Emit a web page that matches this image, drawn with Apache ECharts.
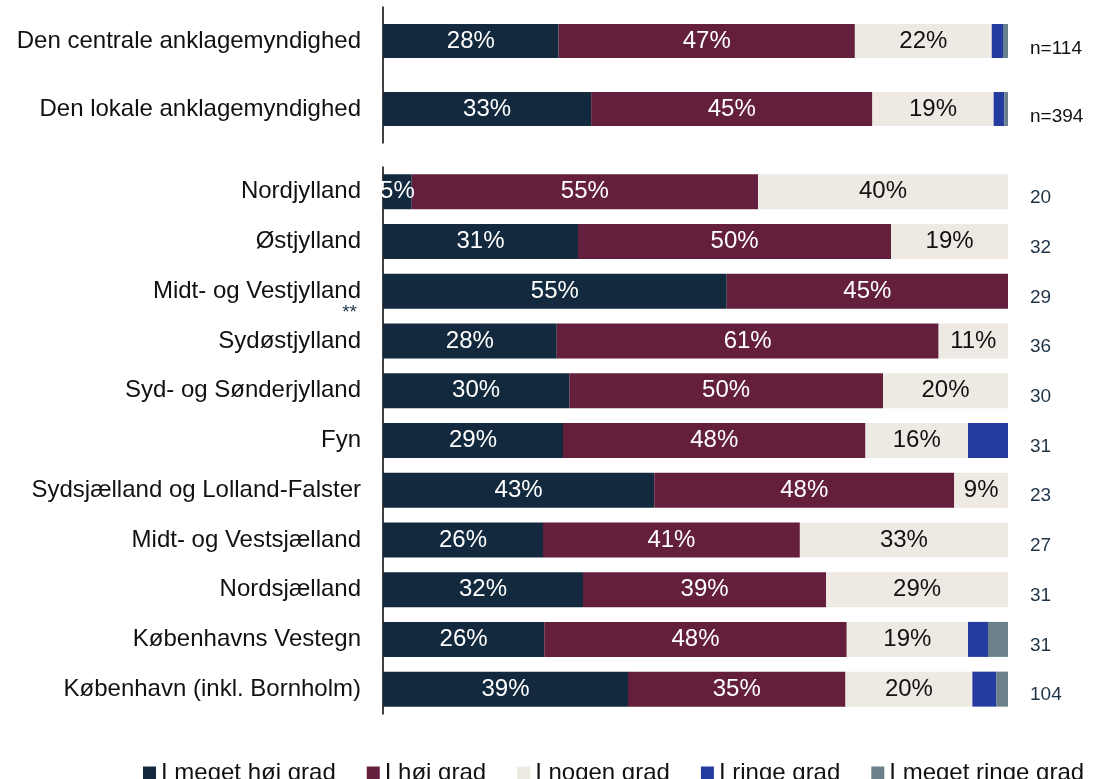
<!DOCTYPE html>
<html>
<head>
<meta charset="utf-8">
<script src="https://cdn.jsdelivr.net/npm/echarts@6/dist/echarts.min.js"></script>
<style>html,body{margin:0;padding:0;background:#fff}#c{width:1105px;height:779px}</style>
</head>
<body>
<div id="c"></div>
<script>
// ---- data ----
const seriesNames = ['I meget høj grad', 'I høj grad', 'I nogen grad', 'I ringe grad', 'I meget ringe grad'];

const topCategories = ['Den centrale anklagemyndighed', 'Den lokale anklagemyndighed'];
const topN = ['n=114', 'n=394'];
const topMegetHoej = [28.1, 33.3];
const topHoej = [47.4, 45.0];
const topNogen = [21.9, 19.4];
const topRinge = [1.8, 1.7];
const topMegetRinge = [0.8, 0.6];

const regCategories = ['Nordjylland', 'Østjylland', 'Midt- og Vestjylland', 'Sydøstjylland', 'Syd- og Sønderjylland', 'Fyn',
  'Sydsjælland og Lolland-Falster', 'Midt- og Vestsjælland', 'Nordsjælland', 'Københavns Vestegn', 'København (inkl. Bornholm)'];
const regN = ['20', '32', '29', '36', '30', '31', '23', '27', '31', '31', '104'];
const regMegetHoej = [4.6, 31.2, 55.0, 27.8, 29.8, 28.8, 43.4, 25.6, 32.0, 25.8, 39.2];
const regHoej = [55.4, 50.1, 45.0, 61.1, 50.2, 48.4, 48.0, 41.1, 38.9, 48.4, 34.8];
const regNogen = [40.0, 18.7, 0, 11.1, 20.0, 16.4, 8.6, 33.3, 29.1, 19.4, 20.3];
const regRinge = [0, 0, 0, 0, 0, 6.4, 0, 0, 0, 3.2, 3.8];
const regMegetRinge = [0, 0, 0, 0, 0, 0, 0, 0, 0, 3.2, 1.9];

const starredCategory = 'Midt- og Vestjylland';

// ---- styling ----
const colors = ['#132a3e', '#641f3d', '#eeeae3', '#243c9f', '#6a808a'];
const labelColors = ['#ffffff', '#ffffff', '#111111', '#ffffff', '#ffffff'];
const showLabel = [true, true, true, false, false];
const FONT = '"Liberation Sans", Arial, sans-serif';

const topData = [topMegetHoej, topHoej, topNogen, topRinge, topMegetRinge];
const regData = [regMegetHoej, regHoej, regNogen, regRinge, regMegetRinge];

function makeSeries(dataSets, idx, barWidth) {
  return dataSets.map((d, i) => ({
    name: seriesNames[i],
    type: 'bar',
    stack: 'g' + idx,
    xAxisIndex: idx,
    yAxisIndex: idx * 2,
    barWidth: barWidth,
    data: d,
    itemStyle: { color: colors[i] },
    label: {
      show: showLabel[i],
      position: 'inside',
      color: labelColors[i],
      fontSize: 24,
      fontFamily: FONT,
      formatter: p => p.value > 0 ? Math.round(p.value) + '%' : ''
    },
    emphasis: { disabled: true },
    animation: false
  }));
}

function catAxis(gridIndex, data) {
  return {
    type: 'category', gridIndex: gridIndex, data: data, inverse: true,
    axisLine: { show: true, lineStyle: { color: '#000', width: 1.5 } },
    axisTick: { show: false },
    axisLabel: {
      margin: 22, fontSize: 24, fontFamily: FONT, color: '#111',
      formatter: v => v === starredCategory
        ? '{s| }\n{a|' + v + '}\n{st|**}'
        : '{a|' + v + '}',
      rich: {
        a: { fontSize: 24, fontFamily: FONT, color: '#111', lineHeight: 24, align: 'right' },
        s: { fontSize: 18, lineHeight: 18, align: 'right' },
        st: { fontSize: 19, fontFamily: FONT, color: '#1f3347', lineHeight: 18, align: 'right', padding: [0, 4, 0, 0] }
      }
    }
  };
}

function nAxis(gridIndex, data, shift, color) {
  return {
    type: 'category', gridIndex: gridIndex, data: data, inverse: true, position: 'right',
    axisLine: { show: false }, axisTick: { show: false },
    axisLabel: {
      margin: 22, color: color,
      formatter: v => '{p|}\n{n|' + v + '}',
      rich: {
        p: { fontSize: 10, lineHeight: shift * 2 },
        n: { fontSize: 19, fontFamily: FONT, color: color, lineHeight: 22 }
      }
    }
  };
}

const option = {
  animation: false,
  grid: [
    { left: 383, right: 97, top: 7, height: 136 },
    { left: 383, right: 97, top: 167, height: 547 }
  ],
  xAxis: [
    { type: 'value', gridIndex: 0, min: 0, max: 100, show: false },
    { type: 'value', gridIndex: 1, min: 0, max: 100, show: false }
  ],
  yAxis: [
    catAxis(0, topCategories),
    nAxis(0, topN, 8, '#111'),
    catAxis(1, regCategories),
    nAxis(1, regN, 6, '#1f3347')
  ],
  legend: {
    left: 138, top: 756,
    itemWidth: 13, itemHeight: 13, itemGap: 31,
    icon: 'rect',
    textStyle: { fontSize: 24, fontFamily: FONT, color: '#111' },
    data: seriesNames
  },
  series: [...makeSeries(topData, 0, 34), ...makeSeries(regData, 1, 35)]
};

const chart = echarts.init(document.getElementById('c'), null, { renderer: 'canvas' });
chart.setOption(option);
</script>
</body>
</html>
